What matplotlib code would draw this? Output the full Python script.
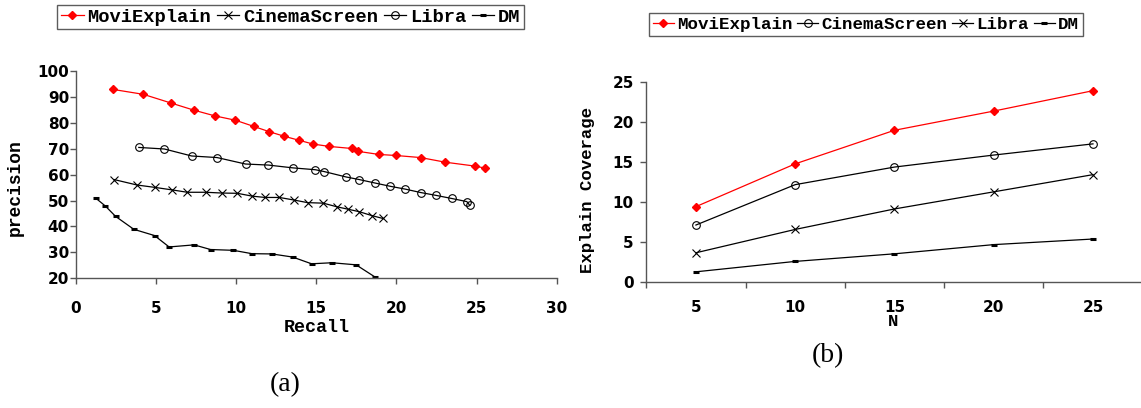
import matplotlib
matplotlib.use("Agg")
import matplotlib.pyplot as plt

# ---------------- data ----------------
# (a) precision vs recall
movi_recall = [2.3, 4.2, 5.9, 7.35, 8.65, 9.95, 11.1, 12.05, 13.0, 13.9, 14.8, 15.8,
               17.2, 17.6, 18.9, 19.95, 21.5, 23.05, 24.9, 25.55]
movi_prec = [92.9, 91.0, 87.7, 84.9, 82.7, 81.0, 78.6, 76.6, 74.8, 73.3, 71.8, 70.9,
             70.1, 69.0, 67.8, 67.4, 66.6, 64.8, 63.3, 62.5]

cinema_recall = [2.38, 3.81, 4.9, 6.01, 6.95, 8.1, 9.11, 10.07, 11.0, 11.8, 12.69,
                 13.61, 14.45, 15.43, 16.28, 16.95, 17.68, 18.46, 19.15]
cinema_prec = [58.1, 56.0, 55.1, 54.1, 53.2, 53.2, 52.9, 52.8, 51.7, 51.2, 51.2,
               50.2, 49.2, 49.0, 47.6, 46.7, 45.7, 44.2, 43.1]

libra_recall = [3.92, 5.52, 7.22, 8.8, 10.58, 12.0, 13.56, 14.94, 15.48, 16.86, 17.68,
                18.64, 19.62, 20.56, 21.51, 22.47, 23.45, 24.39, 24.57]
libra_prec = [70.5, 69.9, 67.2, 66.6, 64.1, 63.7, 62.6, 61.9, 61.2, 59.1, 58.1,
              56.8, 55.5, 54.4, 53.1, 52.0, 50.8, 49.6, 48.2]

dm_recall = [1.22, 1.83, 2.47, 3.61, 4.9, 5.81, 7.37, 8.4, 9.82, 10.98, 12.23, 13.52,
             14.7, 15.97, 17.48, 18.66]
dm_prec = [51.0, 47.9, 43.9, 38.9, 36.5, 32.1, 32.9, 31.1, 30.8, 29.5, 29.4, 28.2,
           25.6, 26.0, 25.2, 20.5]

# (b) explain coverage vs N
N_values = [5, 10, 15, 20, 25]
movi_cov = [9.45, 14.8, 19.0, 21.4, 23.95]
cinema_cov = [7.15, 12.2, 14.4, 15.9, 17.3]
libra_cov = [3.68, 6.6, 9.16, 11.3, 13.45]
dm_cov = [1.3, 2.6, 3.55, 4.7, 5.4]

left_xticks = [0, 5, 10, 15, 20, 25, 30]
left_yticks = [20, 30, 40, 50, 60, 70, 80, 90, 100]
right_yticks = [0, 5, 10, 15, 20, 25]

# ---------------- styles ----------------
W, H = 1141, 408
fig = plt.figure(figsize=(W / 100, H / 100), dpi=100)

MONO = ["Liberation Mono", "DejaVu Sans Mono"]
TICKFONT = dict(family="DejaVu Sans", weight="bold", size=11)
SPINE = "#555555"

red_style = dict(color="#ff0000", marker="D", ms=4.2, lw=0.9, mec="#ff0000", mfc="#ff0000")
circ_style = dict(color="black", marker="o", ms=5.5, lw=0.9, mfc="none", mec="black", mew=0.8)
x_style = dict(color="black", marker="x", ms=5.5, lw=0.9, mec="black", mew=0.8)
dash_style = dict(color="black", marker="_", ms=5.0, lw=0.9, mec="black", mew=2.2)


def fx(px):
    return px / W


def fy(py):
    return 1 - py / H


def style_axes(ax, ypad):
    for s in ("top", "right"):
        ax.spines[s].set_visible(False)
    for s in ("left", "bottom"):
        ax.spines[s].set_color(SPINE)
        ax.spines[s].set_linewidth(1.0)
    ax.tick_params(axis="both", which="both", direction="out", color=SPINE,
                   length=4, width=1.0)
    ax.tick_params(axis="y", pad=ypad)
    for lab in ax.get_yticklabels() + ax.get_xticklabels(which="both"):
        lab.set_fontfamily(TICKFONT["family"])
        lab.set_fontweight(TICKFONT["weight"])
        lab.set_fontsize(TICKFONT["size"])


def make_legend(handles, cx, cy, size, colsp):
    leg = fig.legend(handles=handles, loc="center", ncol=4,
                     bbox_to_anchor=(fx(cx), fy(cy)),
                     prop=dict(family=MONO, weight="bold", size=size),
                     frameon=True, fancybox=False, edgecolor="#333333",
                     handlelength=1.2, handletextpad=0.2, columnspacing=colsp,
                     borderpad=0.2, borderaxespad=0)
    leg.get_frame().set_linewidth(1.0)
    return leg


# ---------------- (a) ----------------
axL = fig.add_axes([fx(76), fy(278.3), fx(556.7) - fx(76), fy(71) - fy(278.3)])
axL.plot(movi_recall, movi_prec, **red_style, label="MoviExplain", clip_on=False)
axL.plot(cinema_recall, cinema_prec, **x_style, label="CinemaScreen", clip_on=False)
axL.plot(libra_recall, libra_prec, **circ_style, label="Libra", clip_on=False)
axL.plot(dm_recall, dm_prec, **dash_style, label="DM", clip_on=False)
axL.set_xlim(0, 30)
axL.set_ylim(20, 100)
axL.set_xticks(left_xticks)
axL.set_yticks(left_yticks)
axL.tick_params(axis="x", pad=12.3)
style_axes(axL, ypad=1)

fig.text(fx(15), fy(188), "precision", rotation=90, ha="center", va="center",
         family=MONO, weight="bold", size=13)
fig.text(fx(316.7), fy(327.7), "Recall", ha="center", va="center",
         family=MONO, weight="bold", size=13.2)

make_legend(axL.get_lines(), 290.8, 17, 13.5, 0.3)

# ---------------- (b) ----------------
axR = fig.add_axes([fx(646.3), fy(282.2), fx(1142.6) - fx(646.3), fy(82.3) - fy(282.2)])
axR.plot(N_values, movi_cov, **red_style, label="MoviExplain", clip_on=False)
axR.plot(N_values, cinema_cov, **circ_style, label="CinemaScreen", clip_on=False)
axR.plot(N_values, libra_cov, **x_style, label="Libra", clip_on=False)
axR.plot(N_values, dm_cov, **dash_style, label="DM", clip_on=False)
axR.set_xlim(N_values[0] - 2.5, N_values[-1] + 2.5)
axR.set_ylim(0, 25)
axR.set_yticks(right_yticks)
axR.set_xticks([n - 2.5 for n in N_values] + [N_values[-1] + 2.5])
axR.set_xticklabels([])
axR.set_xticks(N_values, minor=True)
axR.set_xticklabels([str(n) for n in N_values], minor=True)
style_axes(axR, ypad=5)
axR.tick_params(axis="x", which="minor", length=0, pad=13)

fig.text(fx(587.3), fy(190), "Explain Coverage", rotation=90, ha="center", va="center",
         family=MONO, weight="bold", size=12.5)
fig.text(fx(893), fy(322), "N", ha="center", va="center",
         family=MONO, weight="bold", size=12.5)

make_legend(axR.get_lines(), 866, 24.4, 12.6, 0.25)

# ---------------- captions ----------------
fig.text(fx(285), fy(385), "(a)", ha="center", va="center",
         family="Liberation Serif", size=20)
fig.text(fx(828), fy(356), "(b)", ha="center", va="center",
         family="Liberation Serif", size=20)

fig.savefig("out.png", dpi=100)
